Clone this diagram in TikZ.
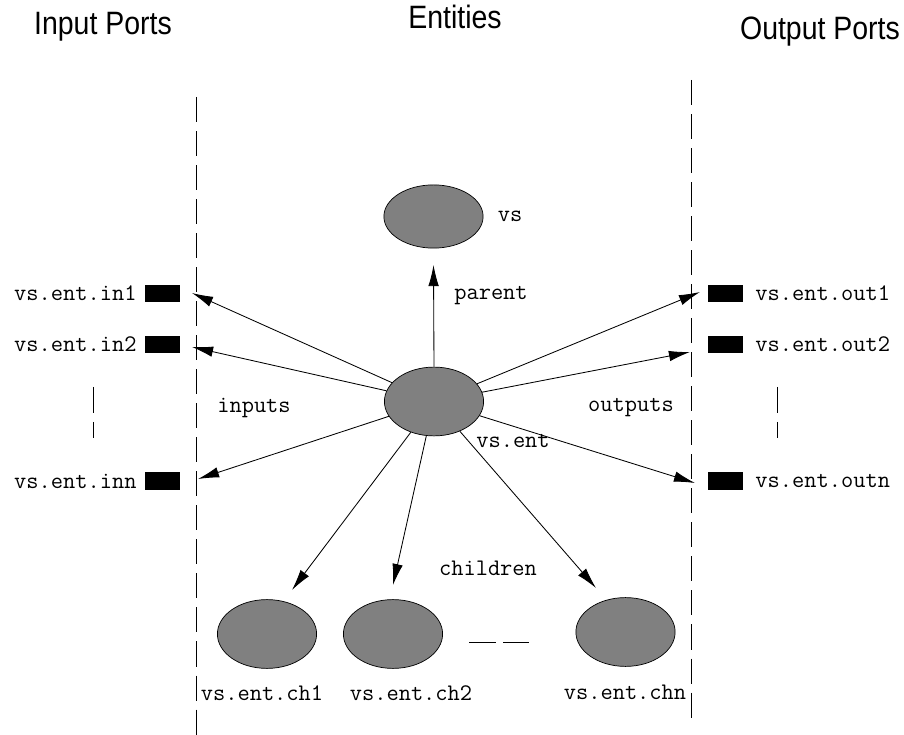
\documentclass[tikz,border=0pt]{standalone}
\usepackage{fontspec}
\setmainfont{Liberation Sans}
\usetikzlibrary{arrows.meta,shapes.geometric}
\definecolor{entgray}{RGB}{128,128,128}
\newcommand{\titletext}[1]{\scalebox{0.88}[1]{#1}}
\begin{document}
\begin{tikzpicture}[x=0.025cm, y=-0.025cm, line width=0.6pt,
    entity/.style={ellipse, draw, line width=0.5pt, fill=entgray, inner sep=0pt,
      minimum width=2.48cm, minimum height=1.72cm},
    port/.style={fill=black, inner sep=0pt, minimum width=0.875cm, minimum height=0.43cm},
    lbl/.style={font=\fontsize{16.9}{19}\selectfont\ttfamily, inner sep=0pt},
    title/.style={font=\fontsize{23}{27}\selectfont, inner sep=0pt},
    link/.style={-{Latex[length=15pt,width=7.5pt]}},
    border/.style={dash pattern=on 17.8pt off 6.4pt}]
  \useasboundingbox (0,0) rectangle (904,735);
  % column titles
  \node[title] (inptitle) at (103,27) {\titletext{Input Ports}};
  \node[title] (enttitle) at (455,17) {\titletext{Entities}};
  \node[title] (outtitle) at (820,32) {\titletext{Output Ports}};
  % borders between ports and entities
  \coordinate (ltop) at (196,97);
  \coordinate (lbot) at (196,735);
  \coordinate (rtop) at (691,80);
  \coordinate (rbot) at (691,719);
  \draw[border] (ltop) -- (lbot);
  \draw[border] (rtop) -- (rbot);
  % entities
  \node[entity, minimum height=1.58cm] (vs) at (433.5,216.5) {};
  \node[entity] (ent) at (434,401.5) {};
  \node[entity] (ch1) at (267,634) {};
  \node[entity] (ch2) at (393,634) {};
  \node[entity] (chn) at (625.5,632) {};
  \node[lbl] (vs-lbl) at (510,216) {vs};
  \node[lbl] (ent-lbl) at (513,441) {vs.ent};
  \node[lbl] (ch1-lbl) at (262,693) {vs.ent.ch1};
  \node[lbl] (ch2-lbl) at (411,693) {vs.ent.ch2};
  \node[lbl] (chn-lbl) at (625,692) {vs.ent.chn};
  % ports
  \foreach \name/\y in {in1/293.5, in2/344.5, inn/481} {
    \node[port] (\name) at (162.5,\y) {};
    \node[lbl, anchor=east] (\name-lbl) at (137,\y) {vs.ent.\name};
  }
  \foreach \name/\y in {out1/293.5, out2/344.5, outn/481} {
    \node[port] (\name) at (725.5,\y) {};
    \node[lbl, anchor=west] (\name-lbl) at (755,\y) {vs.ent.\name};
  }
  % arrow ends
  \coordinate (par-tip) at (433.5,265);
  \coordinate (in1-tip) at (192,293);
  \coordinate (in2-tip) at (192,347);
  \coordinate (inn-tip) at (198,479);
  \coordinate (out1-tip) at (700,292);
  \coordinate (out2-tip) at (690,352);
  \coordinate (outn-tip) at (695,483);
  \coordinate (ch1-tip) at (292,590);
  \coordinate (ch2-tip) at (393,585);
  \coordinate (chn-tip) at (596,588);
  \draw[link] (ent.north) -- (par-tip);
  \foreach \t in {in1,in2,inn,out1,out2,outn,ch1,ch2,chn}
    \draw[link] (ent) -- (\t-tip);
  % link labels
  \node[lbl] (par-lbl) at (491,296) {parent};
  \node[lbl] (inp-lbl) at (254,408) {inputs};
  \node[lbl] (outp-lbl) at (631,408) {outputs};
  \node[lbl] (chl-lbl) at (488,568) {children};
  % ellipses
  \draw (93,387) -- (93,413) (93,422) -- (93,438);
  \draw (777,387) -- (777,413) (777,422) -- (777,438);
  \draw (469,642) -- (496,642) (503,642) -- (529,642);
\end{tikzpicture}
\end{document}
